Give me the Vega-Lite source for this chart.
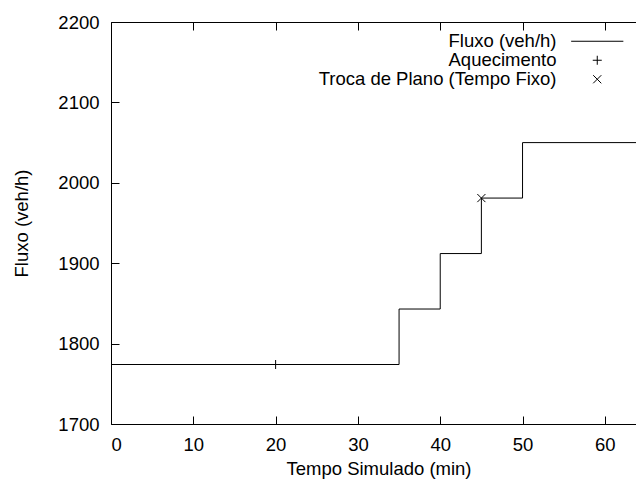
{
  "$schema": "https://vega.github.io/schema/vega-lite/v6.json",
  "width": 535,
  "height": 402,
  "autosize": "none",
  "padding": {"left": 111, "top": 22, "right": 0, "bottom": 58},
  "background": "white",
  "config": {
    "font": "Liberation Sans",
    "view": {"stroke": "black", "strokeWidth": 1},
    "axis": {
      "grid": false,
      "domain": false,
      "ticks": true,
      "tickColor": "black",
      "tickSize": -8,
      "labelColor": "black",
      "labelFontSize": 18.5,
      "titleFontSize": 18.5,
      "titleFontWeight": "normal",
      "titleColor": "black",
      "labelFont": "Liberation Sans",
      "titleFont": "Liberation Sans",
      "format": "d"
    },
    "legend": {
      "orient": "none",
      "legendX": 477,
      "legendY": 10,
      "padding": 0,
      "labelAlign": "right",
      "labelOffset": -50,
      "labelLimit": 400,
      "labelFontSize": 18.5,
      "labelFont": "Liberation Sans",
      "labelColor": "black",
      "symbolSize": 81,
      "symbolStrokeColor": "black",
      "symbolStrokeWidth": 1,
      "symbolFillColor": "transparent",
      "rowPadding": 0,
      "titleFontSize": 0
    }
  },
  "layer": [
    {
      "data": {
        "values": [
          {"t": 0, "fluxo": 1774},
          {"t": 35, "fluxo": 1843},
          {"t": 40, "fluxo": 1912},
          {"t": 45, "fluxo": 1981},
          {"t": 50, "fluxo": 2050},
          {"t": 65, "fluxo": 2050}
        ]
      },
      "mark": {"type": "line", "interpolate": "step-after", "color": "black", "strokeWidth": 1},
      "encoding": {
        "x": {
          "field": "t",
          "type": "quantitative",
          "scale": {"domain": [0, 65], "nice": false, "zero": false},
          "axis": {"values": [0, 10, 20, 30, 40, 50, 60], "title": "Tempo Simulado (min)", "labelPadding": 19, "titlePadding": 6}
        },
        "y": {
          "field": "fluxo",
          "type": "quantitative",
          "scale": {"domain": [1700, 2200], "nice": false, "zero": false},
          "axis": {"values": [1700, 1800, 1900, 2000, 2100, 2200], "title": "Fluxo (veh/h)", "labelPadding": 20, "titlePadding": 26}
        }
      }
    },
    {
      "data": {
        "values": [
          {"t": 20, "fluxo": 1774, "serie": "Aquecimento"},
          {"t": 45, "fluxo": 1981, "serie": "Troca de Plano (Tempo Fixo)"}
        ]
      },
      "mark": {"type": "point", "filled": false, "color": "black", "strokeWidth": 1, "size": 81, "opacity": 1},
      "encoding": {
        "x": {
          "field": "t",
          "type": "quantitative",
          "axis": {"orient": "top", "labels": false, "title": null, "values": [0, 10, 20, 30, 40, 50, 60]}
        },
        "y": {
          "field": "fluxo",
          "type": "quantitative",
          "axis": {"orient": "right", "labels": false, "title": null, "values": [1700, 1800, 1900, 2000, 2100, 2200]}
        },
        "shape": {
          "field": "serie",
          "type": "nominal",
          "scale": {
            "domain": ["Fluxo (veh/h)", "Aquecimento", "Troca de Plano (Tempo Fixo)"],
            "range": ["M-5.8,0H5.8", "M-1,0H1M0,-1V1", "M-0.9,-0.9L0.9,0.9M-0.9,0.9L0.9,-0.9"]
          },
          "legend": {"title": null}
        }
      }
    }
  ],
  "resolve": {"axis": {"x": "independent", "y": "independent"}}
}
